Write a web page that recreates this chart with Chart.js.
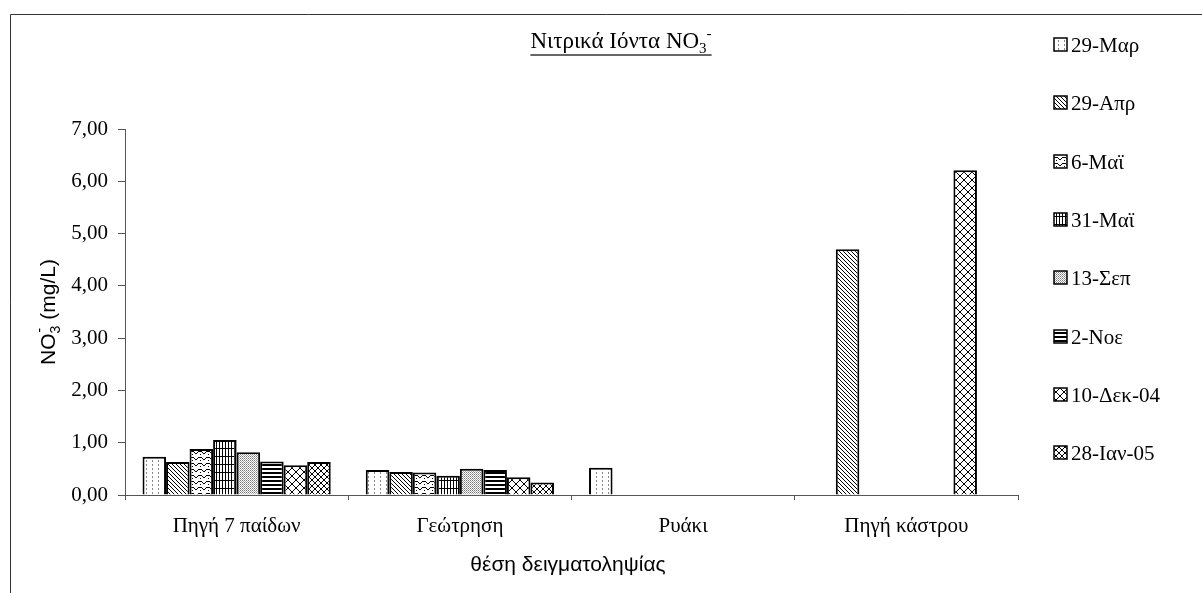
<!DOCTYPE html>
<html lang="el">
<head>
  <meta charset="UTF-8">
  <title>Νιτρικά Ιόντα NO3-</title>
  <script src="https://cdn.jsdelivr.net/npm/chart.js"></script>
  <style>
    html, body { margin: 0; padding: 0; background: #fff; }
    #wrap { width: 1202px; height: 593px; }
  </style>
</head>
<body>
<div id="wrap"><canvas id="no3Chart" width="1202" height="593"></canvas></div>

<script>
// === données ===
const categories = ['Πηγή 7 παίδων', 'Γεώτρηση', 'Ρυάκι', 'Πηγή κάστρου'];
const seriesNames = ['29-Μαρ', '29-Απρ', '6-Μαϊ', '31-Μαϊ', '13-Σεπ', '2-Νοε', '10-Δεκ-04', '28-Ιαν-05'];
const mar29 = [0.73, 0.48, 0.52, null];
const apr29 = [0.63, 0.44, null, 4.70];
const may6  = [0.88, 0.43, null, null];
const may31 = [1.05, 0.37, null, null];
const sep13 = [0.82, 0.50, null, null];
const nov2  = [0.64, 0.48, null, null];
const dec10 = [0.57, 0.34, null, 6.21];
const jan28 = [0.63, 0.24, null, null];
const yTicks = [0, 1, 2, 3, 4, 5, 6, 7];

const serif = '"Liberation Serif", "Times New Roman", serif';
const sans = '"Liberation Sans", Arial, sans-serif';

// petits motifs noir/blanc comme dans Excel
function makePattern(w, h, draw) {
  const c = document.createElement('canvas');
  c.width = w; c.height = h;
  const g = c.getContext('2d');
  g.fillStyle = '#fff';
  g.fillRect(0, 0, w, h);
  draw(g);
  return g.createPattern(c, 'repeat');
}
function px(g, color, list) {
  g.fillStyle = color;
  list.forEach(p => g.fillRect(p[0], p[1], p[2] || 1, p[3] || 1));
}

const patterns = [
  // 29-Μαρ : pointillés verticaux
  makePattern(6, 4, g => px(g, '#888', [[2, 0, 1, 2]])),
  // 29-Απρ : diagonales serrées
  makePattern(4, 4, g => px(g, '#000', [[0, 0], [1, 1], [2, 2], [3, 3]])),
  // 6-Μαϊ : vagues
  makePattern(8, 6, g => px(g, '#000', [[0, 1, 2, 1], [2, 2, 1, 1], [3, 3, 2, 1], [5, 2, 1, 1], [6, 1, 2, 1], [0, 4, 1, 1]])),
  // 31-Μαϊ : petite grille
  makePattern(3, 8, g => px(g, '#000', [[0, 0, 1, 8], [0, 0, 3, 1]])),
  // 13-Σεπ : points gris
  makePattern(2, 2, g => { px(g, '#777', [[0, 0]]); px(g, '#aaa', [[1, 1]]); }),
  // 2-Νοε : lignes horizontales
  makePattern(4, 4, g => px(g, '#000', [[0, 0, 4, 2]])),
  // 10-Δεκ-04 : treillis large
  makePattern(8, 8, g => px(g, '#000', [[0, 0], [1, 1], [2, 2], [3, 3], [4, 4], [5, 5], [6, 6], [7, 7],
                                         [7, 0], [6, 1], [5, 2], [4, 3], [3, 4], [2, 5], [1, 6], [0, 7]])),
  // 28-Ιαν-05 : treillis serré
  makePattern(6, 6, g => px(g, '#000', [[0, 0], [1, 1], [2, 2], [3, 3], [4, 4], [5, 5],
                                         [5, 0], [4, 1], [3, 2], [2, 3], [1, 4], [0, 5]]))
];

const seriesValues = [mar29, apr29, may6, may31, sep13, nov2, dec10, jan28];

// titre, titres d'axes, légende et cadre
const decorations = {
  id: 'decorations',
  afterDraw(chart) {
    const ctx = chart.ctx;
    ctx.save();

    // cadre (bord gauche et haut)
    ctx.strokeStyle = '#333';
    ctx.lineWidth = 1;
    ctx.beginPath();
    ctx.moveTo(10.5, 593);
    ctx.lineTo(10.5, 14.5);
    ctx.lineTo(1202, 14.5);
    ctx.stroke();

    // titre souligné avec indice / exposant
    ctx.fillStyle = '#000';
    ctx.textBaseline = 'alphabetic';
    ctx.textAlign = 'left';
    const main = 'Νιτρικά Ιόντα NO';
    ctx.font = '23px ' + serif;
    const wMain = ctx.measureText(main).width;
    ctx.font = '15px ' + serif;
    const wSub = ctx.measureText('3').width;
    const wSup = ctx.measureText('-').width;
    const total = wMain + wSub + wSup;
    let x0 = 621 - total / 2;
    ctx.font = '23px ' + serif;
    ctx.fillText(main, x0, 48);
    ctx.font = '15px ' + serif;
    ctx.fillText('3', x0 + wMain, 53);
    ctx.fillText('-', x0 + wMain + wSub, 38);
    ctx.lineWidth = 1.5;
    ctx.beginPath();
    ctx.moveTo(x0, 55);
    ctx.lineTo(x0 + total, 55);
    ctx.stroke();

    // titre axe Y
    ctx.save();
    ctx.translate(55, 312);
    ctx.rotate(-Math.PI / 2);
    ctx.font = '21px ' + sans;
    const a = 'NO', b = ' (mg/L)';
    const wa = ctx.measureText(a).width, wb = ctx.measureText(b).width;
    ctx.font = '14px ' + sans;
    const w3 = ctx.measureText('3').width;
    const tot = wa + w3 + wb;
    let sx = -tot / 2;
    ctx.font = '21px ' + sans;
    ctx.fillText(a, sx, 0);
    ctx.font = '14px ' + sans;
    ctx.fillText('3', sx + wa, 5);
    ctx.fillText('-', sx + wa + 1, -11);
    ctx.font = '21px ' + sans;
    ctx.fillText(b, sx + wa + w3, 0);
    ctx.restore();

    // titre axe X
    ctx.font = '21px ' + sans;
    ctx.textAlign = 'center';
    ctx.textBaseline = 'middle';
    ctx.fillText('θέση δειγματοληψίας', 568, 565);

    // légende
    ctx.textAlign = 'left';
    ctx.font = '21px ' + serif;
    chart.data.datasets.forEach((ds, i) => {
      const y = Math.round(45 + 58.3 * i);
      ctx.fillStyle = ds.backgroundColor;
      ctx.fillRect(1054, y - 7, 13, 13);
      ctx.strokeStyle = '#000';
      ctx.lineWidth = 1.5;
      ctx.strokeRect(1054, y - 7, 13, 13);
      ctx.fillStyle = '#000';
      ctx.fillText(ds.label, 1071, y + 1);
    });

    ctx.restore();
  }
};

new Chart(document.getElementById('no3Chart'), {
  type: 'bar',
  data: {
    labels: categories,
    datasets: seriesNames.map((name, i) => ({
      label: name,
      data: seriesValues[i],
      backgroundColor: patterns[i],
      borderColor: '#000',
      borderWidth: 2,
      borderSkipped: 'bottom',
      barPercentage: 1.0,
      categoryPercentage: 0.843
    }))
  },
  options: {
    responsive: false,
    animation: false,
    devicePixelRatio: 1,
    layout: { padding: { top: 129, right: 184, bottom: 0, left: 0 } },
    plugins: {
      legend: { display: false },
      title: { display: false },
      tooltip: { enabled: false }
    },
    scales: {
      x: {
        offset: true,
        grid: { offset: true, drawOnChartArea: false, drawTicks: true, tickLength: 5, color: '#555' },
        border: { color: '#555', width: 1 },
        ticks: { color: '#000', font: { family: serif, size: 21 }, padding: 14, maxRotation: 0 },
        afterFit: s => { s.height = 98; }
      },
      y: {
        min: 0,
        max: 7,
        afterBuildTicks: s => { s.ticks = yTicks.map(v => ({ value: v })); },
        grid: { drawOnChartArea: false, drawTicks: true, tickLength: 7, color: '#555' },
        border: { color: '#555', width: 1 },
        ticks: {
          color: '#000',
          font: { family: serif, size: 21 },
          padding: 10,
          callback: v => v.toFixed(2).replace('.', ',')
        },
        afterFit: s => { s.width = 125; }
      }
    }
  },
  plugins: [decorations]
});
</script>
</body>
</html>
